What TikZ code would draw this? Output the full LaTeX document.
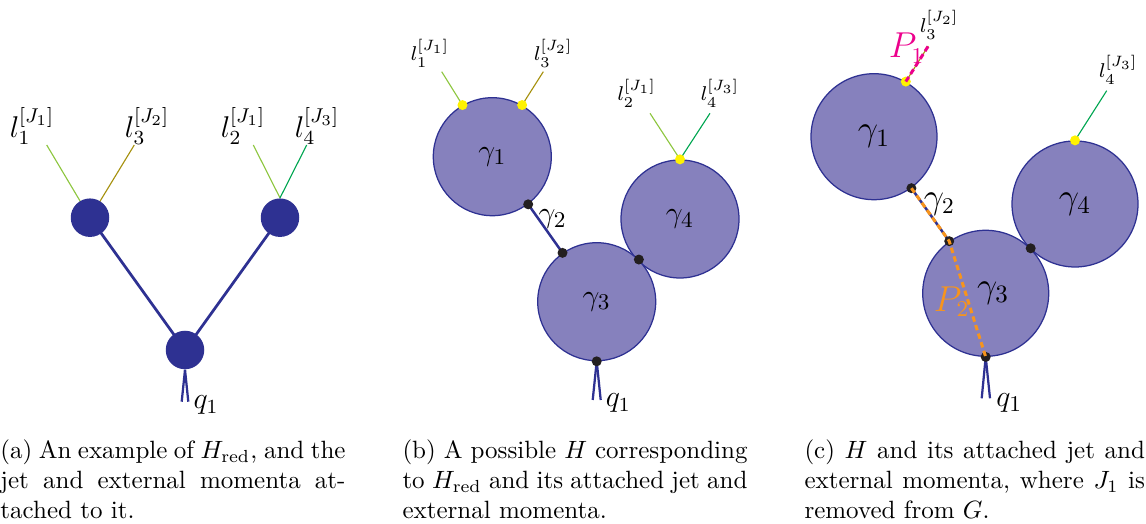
\documentclass[tikz,border=0pt]{standalone}
\usetikzlibrary{backgrounds}
\definecolor{dblue}{RGB}{46,49,146}
\definecolor{lav}{RGB}{134,129,189}
\definecolor{jone}{RGB}{141,198,63}
\definecolor{jtwo}{RGB}{166,145,14}
\definecolor{jthree}{RGB}{0,166,81}
\definecolor{ydotc}{RGB}{255,242,0}
\definecolor{bdotc}{RGB}{35,31,32}
\definecolor{mag}{RGB}{236,0,140}
\definecolor{org}{RGB}{247,148,29}
\tikzset{
  ablob/.style={circle, fill=dblue, inner sep=0pt, minimum size=15.4pt},
  bblob/.style={circle, fill=lav, draw=dblue, line width=0.5pt, inner sep=0pt, minimum size=47.2pt, font=\fontsize{12.5}{14}\selectfont},
  cblob/.style={circle, fill=lav, draw=dblue, line width=0.5pt, inner sep=0pt, minimum size=50.4pt, font=\fontsize{14}{16}\selectfont},
  yd/.style={circle, fill=ydotc, inner sep=0pt, minimum size=4pt},
  bd/.style={circle, fill=bdotc, inner sep=0pt, minimum size=4pt},
  jetline/.style={line width=0.45pt},
  edgeline/.style={dblue, line width=1.1pt},
  qline/.style={dblue, line width=0.9pt},
  lab/.style={inner sep=0pt},
  alab/.style={lab, font=\fontsize{11.5}{13}\selectfont},
  blab/.style={lab, font=\fontsize{8.5}{10}\selectfont},
  clab/.style={lab, font=\fontsize{8.5}{10}\selectfont},
  glab/.style={lab, font=\fontsize{12.5}{14}\selectfont},
  caption/.style={inner sep=0pt, anchor=base west},
  pdash/.style={line width=1.2pt, dash pattern=on 2.2pt off 1.4pt},
}
\newcommand{\capbox}[2][138pt]{\parbox[t]{#1}{#2}}
\begin{document}
\begin{tikzpicture}[x=0.4pt, y=-0.4pt]
\useasboundingbox (0,0) rectangle (1146,524);

% ---------------- panel (a) ----------------
\node[ablob] (a1) at (90,217.7) {};
\node[ablob] (a2) at (280,217.7) {};
\node[ablob] (a3) at (185,350) {};
\coordinate (a1l) at (46.7,145);
\coordinate (a1r) at (134.3,145);
\coordinate (a2l) at (253.3,145);
\coordinate (a2r) at (306.7,145);
\coordinate (aq1) at (181.7,401.7);
\coordinate (aq2) at (188.3,401.7);
\begin{pgfonlayer}{background}
\draw[jetline, jone] (a1.center) -- (a1l);
\draw[jetline, jtwo] (a1.center) -- (a1r);
\draw[jetline, jone] (a2.north) -- (a2l);
\draw[jetline, jthree] (a2.north) -- (a2r);
\draw[edgeline] (a1.center) -- (a3.center);
\draw[edgeline] (a2.center) -- (a3.center);
\end{pgfonlayer}
\draw[qline] (a3.south) -- (aq1);
\draw[qline] (a3.south) -- (aq2);
\node[alab] (al1) at (32,126) {$l_1^{[J_1]}$};
\node[alab] (al3) at (147,126) {$l_3^{[J_2]}$};
\node[alab] (al2) at (243,126) {$l_2^{[J_1]}$};
\node[alab] (al4) at (317,126) {$l_4^{[J_3]}$};
\node[lab, font=\fontsize{11.5}{13}\selectfont] (aq) at (206,405) {$q_1$};

% ---------------- panel (b) ----------------
\node[bblob] (b1) at (492.3,156.7) {$\gamma_1$};
\node[bblob] (b4) at (680,219) {$\gamma_4$};
\node[bblob] (b3) at (596.7,301.7) {$\gamma_3$};
\node[yd] (by1) at (b1.120) {};
\node[yd] (by2) at (b1.60) {};
\node[yd] (by3) at (b4.90) {};
\node[bd] (bk1) at (b1.-53.5) {};
\node[bd] (bk2) at (b3.125) {};
\node[bd] (bk3) at (b3.45) {};
\node[bd] (bk4) at (b3.-90) {};
\coordinate (bl1) at (441.7,71.7);
\coordinate (bl3) at (543.3,71.7);
\coordinate (bl2) at (650,113.3);
\coordinate (bl4) at (710,113.3);
\coordinate (bq1) at (592.7,400);
\coordinate (bq2) at (600.7,400);
\begin{pgfonlayer}{background}
\draw[jetline, jone] (by1.center) -- (bl1);
\draw[jetline, jtwo] (by2.center) -- (bl3);
\draw[jetline, jone] (by3.center) -- (bl2);
\draw[jetline, jthree] (by3.center) -- (bl4);
\draw[edgeline, line width=1pt] (bk1.center) -- (bk2.center);
\draw[qline] (bk4.center) -- (bq1);
\draw[qline] (bk4.center) -- (bq2);
\end{pgfonlayer}
\node[blab] (blb1) at (430,53.3) {$l_1^{[J_1]}$};
\node[blab] (blb3) at (553.3,53.3) {$l_3^{[J_2]}$};
\node[blab] (blb2) at (636.7,93.3) {$l_2^{[J_1]}$};
\node[blab] (blb4) at (720,93.3) {$l_4^{[J_3]}$};
\node[glab] (bg2) at (552.7,219.3) {$\gamma_2$};
\node[lab, font=\fontsize{12}{14}\selectfont] (bq) at (618.3,403.3) {$q_1$};

% ---------------- panel (c) ----------------
\node[cblob] (c1) at (874,136.7) {$\gamma_1$};
\node[cblob] (c4) at (1075,204) {$\gamma_4$};
\node[cblob] (c3) at (985.7,293.3) {\hspace*{6pt}$\gamma_3$};
\node[yd] (cy1) at (c1.60) {};
\node[yd] (cy2) at (c4.90) {};
\node[bd] (ck1) at (c1.-54) {};
\node[bd] (ck2) at (c3.125) {};
\node[bd] (ck3) at (c3.45) {};
\node[bd] (ck4) at (c3.-90) {};
\coordinate (cl3) at (928.3,46);
\coordinate (cl4) at (1106.7,90.7);
\coordinate (cq1) at (981.7,398.3);
\coordinate (cq2) at (990,398.3);
\begin{pgfonlayer}{background}
\draw[jetline, jtwo] (cy1.center) -- (cl3);
\draw[jetline, jthree] (cy2.center) -- (cl4);
\draw[edgeline, line width=1pt] (ck1.center) -- (ck2.center);
\draw[qline] (ck4.center) -- (cq1);
\draw[qline] (ck4.center) -- (cq2);
\end{pgfonlayer}
\draw[pdash, mag] (cy1.center) -- (cl3);
\draw[pdash, org] (ck1.center) -- (ck2.center) -- (ck4.center);
\node[clab] (clb3) at (939.3,25) {$l_3^{[J_2]}$};
\node[clab] (clb4) at (1118.3,70) {$l_4^{[J_3]}$};
\node[lab, font=\fontsize{13.5}{15}\selectfont] (cg2) at (939.3,204) {$\gamma_2$};
\node[lab, font=\fontsize{13.5}{15}\selectfont, text=mag] (cp1) at (906.7,48.3) {$P_1$};
\node[lab, font=\fontsize{13.5}{15}\selectfont, text=org] (cp2) at (951.7,301.7) {$P_2$};
\node[lab, font=\fontsize{13}{15}\selectfont] (cq) at (1009.3,403.3) {$q_1$};

% ---------------- captions ----------------
\node[caption] (capa) at (0,459) {\capbox{(a) An example of $H_{\rm red}$, and the jet and external momenta attached to it.}};
\node[caption] (capb) at (402,459) {\capbox{(b) A possible $H$ corresponding to $H_{\rm red}$ and its attached jet and external momenta.}};
\node[caption] (capc) at (804,459) {\capbox[136.2pt]{(c) $H$ and its attached jet and external momenta, where $J_1$ is removed from $G$.}};
\end{tikzpicture}
\end{document}
